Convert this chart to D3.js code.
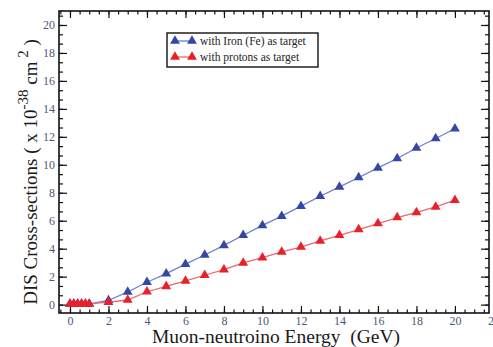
<!DOCTYPE html>
<html>
<head>
<meta charset="utf-8">
<script src="https://d3js.org/d3.v7.min.js"></script>
<style>
body {margin:0; background:white;}
svg text {font-family: "Liberation Serif", "Times New Roman", serif;}
.tick text {fill: #4b5a7d;}
</style>
</head>
<body>
<svg width="493" height="347"></svg>
<script>
// energies (GeV)
var energy = [0, 0.2, 0.4, 0.6, 0.8, 1.0, 2, 3, 4, 5, 6, 7, 8, 9, 10, 11, 12, 13, 14, 15, 16, 17, 18, 19, 20];
// cross-sections, x 10^-38 cm^2
var ironFe = [0.05, 0.05, 0.05, 0.05, 0.05, 0.05, 0.3, 0.9, 1.6, 2.22, 2.9, 3.55, 4.24, 4.96, 5.67, 6.33, 7.04, 7.75, 8.42, 9.09, 9.78, 10.45, 11.2, 11.88, 12.58];
var protons = [0.05, 0.05, 0.05, 0.05, 0.05, 0.05, 0.18, 0.33, 0.92, 1.31, 1.69, 2.1, 2.5, 2.98, 3.36, 3.77, 4.12, 4.55, 4.96, 5.37, 5.8, 6.23, 6.59, 6.99, 7.47];
var xMajor = [0, 2, 4, 6, 8, 10, 12, 14, 16, 18, 20, 22];
var yMajor = [0, 2, 4, 6, 8, 10, 12, 14, 16, 18, 20];
var seriesNames = ["with Iron (Fe) as target", "with protons as target"];

var svg = d3.select('svg');
var mLeft = 59, mRight = 489, mTop = 11, mBottom = 313;

var x = d3.scaleLinear().domain([-0.57, 21.77]).range([mLeft, mRight]);
var y = d3.scaleLinear().domain([-0.6, 21]).range([mBottom, mTop]);

var xMinor = d3.range(-0.5, 21.6, 0.5);
var yMinor = d3.range(0, 32).map(function (k) { return k * 2 / 3; });

// minor ticks, all four sides, pointing inward
svg.append('g').attr('class', 'minor').attr('transform', 'translate(0,' + mBottom + ')')
  .call(d3.axisBottom(x).tickValues(xMinor).tickSize(-3.5).tickSizeOuter(0));
svg.append('g').attr('class', 'minor').attr('transform', 'translate(0,' + mTop + ')')
  .call(d3.axisTop(x).tickValues(xMinor).tickSize(-3.5).tickSizeOuter(0));
svg.append('g').attr('class', 'minor').attr('transform', 'translate(' + mLeft + ',0)')
  .call(d3.axisLeft(y).tickValues(yMinor).tickSize(-4).tickSizeOuter(0));
svg.append('g').attr('class', 'minor').attr('transform', 'translate(' + mRight + ',0)')
  .call(d3.axisRight(y).tickValues(yMinor).tickSize(-4).tickSizeOuter(0));

// major ticks
svg.append('g').attr('transform', 'translate(0,' + mBottom + ')')
  .call(d3.axisBottom(x).tickValues(xMajor).tickSize(-7).tickSizeOuter(0).tickPadding(3))
  .selectAll('text').style('font-size', '12px');
svg.append('g').attr('class', 'minor').attr('transform', 'translate(0,' + mTop + ')')
  .call(d3.axisTop(x).tickValues(xMajor).tickSize(-7).tickSizeOuter(0));
svg.append('g').attr('transform', 'translate(' + mLeft + ',0)')
  .call(d3.axisLeft(y).tickValues(yMajor).tickSize(-8).tickSizeOuter(0).tickPadding(4))
  .selectAll('text').style('font-size', '12px');
svg.append('g').attr('class', 'minor').attr('transform', 'translate(' + mRight + ',0)')
  .call(d3.axisRight(y).tickValues(yMajor).tickSize(-8).tickSizeOuter(0));

// only bottom and left carry labels
svg.selectAll('g.minor text').remove();
svg.selectAll('.domain').remove();
svg.selectAll('.tick line').attr('stroke', '#111').attr('stroke-width', 1.2);

// frame
svg.append('rect')
  .attr('x', mLeft).attr('y', mTop).attr('width', mRight - mLeft).attr('height', mBottom - mTop)
  .attr('fill', 'none').attr('stroke', '#111').attr('stroke-width', 1.6);

var series = [
  {name: seriesNames[0], values: ironFe, line: '#6f7fcc', mark: '#3547a6'},
  {name: seriesNames[1], values: protons, line: '#f0666c', mark: '#e8202a'}
];

var line = d3.line()
  .x(function (d, i) { return x(energy[i]); })
  .y(function (d) { return y(d); });
var tri = d3.symbol().type(d3.symbolTriangle).size(42);

series.forEach(function (s) {
  svg.append('path').datum(s.values)
    .attr('d', line).attr('fill', 'none')
    .attr('stroke', s.line).attr('stroke-width', 1.3);
  svg.append('g').selectAll('path').data(s.values).enter().append('path')
    .attr('d', tri)
    .attr('transform', function (d, i) { return 'translate(' + x(energy[i]) + ',' + y(d) + ')'; })
    .attr('fill', s.mark);
});

// legend
var lg = svg.append('g');
lg.append('rect').attr('x', 167).attr('y', 33).attr('width', 151).attr('height', 34)
  .attr('fill', 'white').attr('stroke', '#111').attr('stroke-width', 1.4);
series.forEach(function (s, i) {
  var ly = 41 + i * 16;
  lg.append('line').attr('x1', 175).attr('x2', 192).attr('y1', ly).attr('y2', ly)
    .attr('stroke', s.line).attr('stroke-width', 1.3);
  [175, 192].forEach(function (lx) {
    lg.append('path').attr('d', tri).attr('transform', 'translate(' + lx + ',' + ly + ')').attr('fill', s.mark);
  });
  lg.append('text').attr('x', 200).attr('y', ly + 4).text(s.name)
    .style('font-size', '11.5px').attr('fill', '#222');
});

// axis titles
svg.append('text').attr('x', 276).attr('y', 343).attr('text-anchor', 'middle')
  .style('font-size', '19.5px').attr('fill', '#1a1a1a')
  .text('Muon-neutroino Energy\u00a0\u00a0(GeV)');

var yt = svg.append('text').attr('transform', 'translate(37,172) rotate(-90)')
  .attr('text-anchor', 'middle').style('font-size', '19px').attr('fill', '#1a1a1a');
yt.append('tspan').text('DIS Cross-sections ( x 10');
yt.append('tspan').attr('dy', -9).style('font-size', '15px').text('-38');
yt.append('tspan').attr('dy', 9).text('\u00a0cm');
yt.append('tspan').attr('dy', -9).style('font-size', '15px').text('\u00a02');
yt.append('tspan').attr('dy', 9).text('\u00a0)');
</script>
</body>
</html>
